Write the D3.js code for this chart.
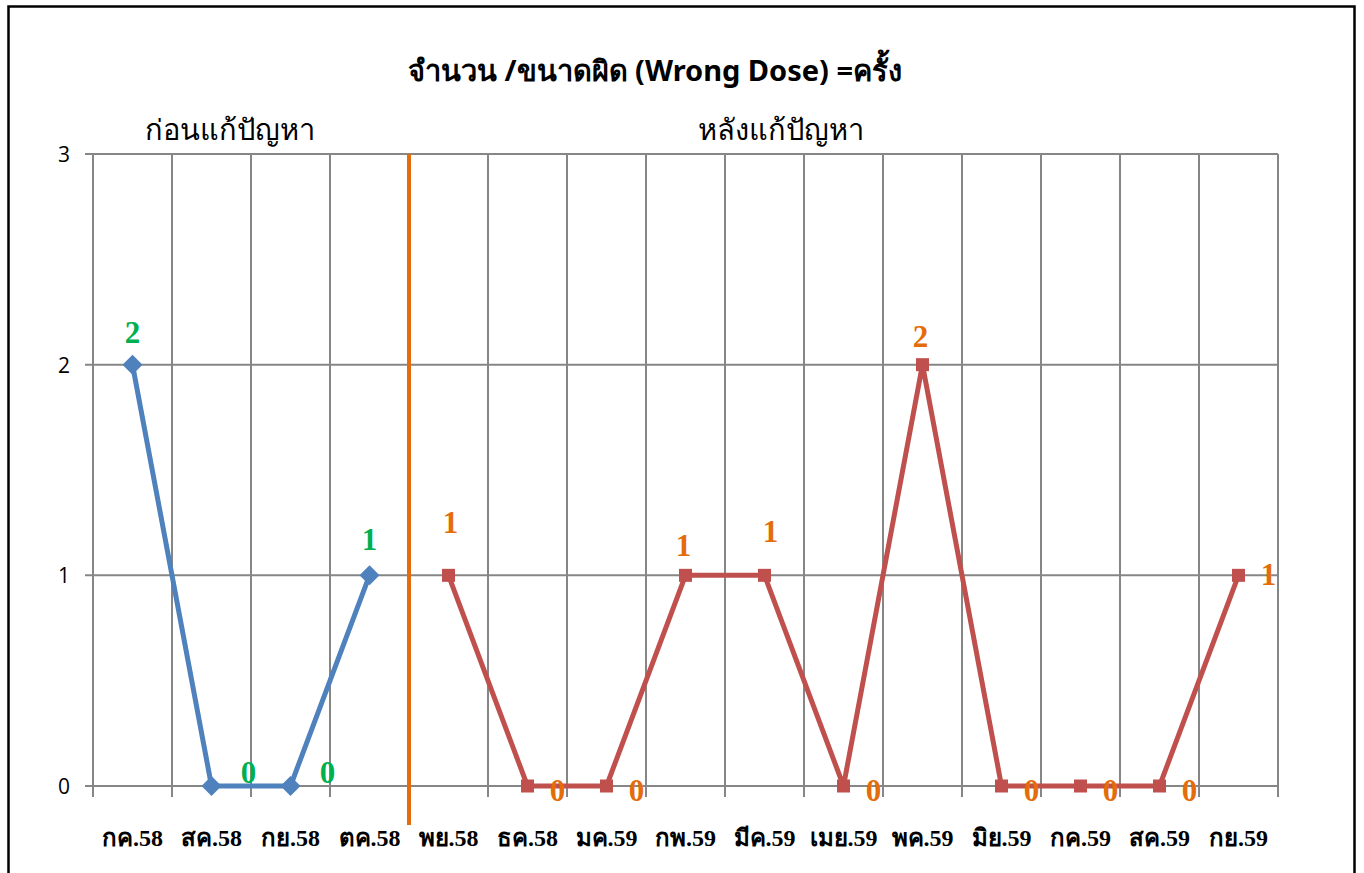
<!DOCTYPE html>
<html><head><meta charset="utf-8">
<script src="https://cdn.jsdelivr.net/npm/d3@7/dist/d3.min.js"></script>
<style>body{margin:0;background:#fff;}svg{display:block;}</style>
</head><body>
<svg id="c" width="1364" height="873"></svg>
<script>
const categories = ["กค.58","สค.58","กย.58","ตค.58","พย.58","ธค.58","มค.59","กพ.59","มีค.59","เมย.59","พค.59","มิย.59","กค.59","สค.59","กย.59"];
const beforeValues = [2,0,0,1];           // ก่อนแก้ปัญหา
const afterValues  = [1,0,0,1,1,0,2,0,0,0,1]; // หลังแก้ปัญหา
const yTicks = [0,1,2,3];
const title = "จำนวน /ขนาดผิด (Wrong Dose) =ครั้ง";
const beforeLabel = "ก่อนแก้ปัญหา";
const afterLabel = "หลังแก้ปัญหา";
// label placement offsets (dx, dy) in px relative to the point
const beforeLabelOffsets = [[0,-22],[37,-3],[37,-3],[0,-25]];
const afterLabelOffsets  = [[2,-42],[30,15],[30,15],[-2,-19],[6,-33],[30,15],[-2,-18],[30,15],[30,15],[30,15],[30,10]];

const svg = d3.select("#c");
const L=93, R=1278, T=154, B=786;
const x = d3.scaleBand().domain(categories).range([L,R]);
const y = d3.scaleLinear().domain([0,3]).range([B,T]);
const grid="#868686";

// frame
svg.append("rect").attr("x",8.5).attr("y",6.5).attr("width",1346).attr("height",880)
  .attr("fill","none").attr("stroke","#000").attr("stroke-width",2.5);

// horizontal gridlines
svg.append("g").selectAll("line").data(yTicks).join("line")
  .attr("x1",L-8).attr("x2",R).attr("y1",d=>y(d)).attr("y2",d=>y(d))
  .attr("stroke",grid).attr("stroke-width",2);
// vertical gridlines
const bounds = categories.map(c=>x(c)).concat([R]);
svg.append("g").selectAll("line").data(bounds).join("line")
  .attr("x1",d=>d).attr("x2",d=>d).attr("y1",T).attr("y2",B+11)
  .attr("stroke",grid).attr("stroke-width",2);

// y tick labels
svg.append("g").selectAll("text").data(yTicks).join("text")
  .attr("x",70).attr("y",d=>y(d)+8).attr("text-anchor","end")
  .attr("font-family","Open Sans, DejaVu Sans, sans-serif").attr("font-size",21).attr("fill","#000")
  .text(d=>d);

// x labels
svg.append("g").selectAll("text").data(categories).join("text")
  .attr("x",d=>x(d)+x.bandwidth()/2).attr("y",846).attr("text-anchor","middle")
  .attr("font-family","Liberation Serif, DejaVu Serif, serif").attr("font-weight","bold").attr("font-size",24).attr("fill","#000")
  .text(d=>d);

// titles
svg.append("text").attr("x",655).attr("y",81).attr("text-anchor","middle")
  .attr("font-family","Noto Sans, DejaVu Sans, sans-serif").attr("font-weight","bold").attr("font-size",29).text(title);
svg.append("text").attr("x",230).attr("y",140).attr("text-anchor","middle")
  .attr("font-family","Noto Sans, DejaVu Sans, sans-serif").attr("font-size",29).text(beforeLabel);
svg.append("text").attr("x",781).attr("y",140).attr("text-anchor","middle")
  .attr("font-family","Noto Sans, DejaVu Sans, sans-serif").attr("font-size",29).text(afterLabel);

// divider
const divX = x(categories[beforeValues.length]);
svg.append("line").attr("x1",divX).attr("x2",divX).attr("y1",T).attr("y2",825)
  .attr("stroke","#E46C0A").attr("stroke-width",4);

const cx = i => x(categories[i])+x.bandwidth()/2;
const beforePts = beforeValues.map((v,i)=>({i,v}));
const afterPts = afterValues.map((v,k)=>({i:k+beforeValues.length,v}));
const line = d3.line().x(d=>cx(d.i)).y(d=>y(d.v));

svg.append("path").datum(beforePts).attr("d",line).attr("fill","none")
  .attr("stroke","#4F81BD").attr("stroke-width",5).attr("stroke-linejoin","round");
svg.append("path").datum(afterPts).attr("d",line).attr("fill","none")
  .attr("stroke","#C0504D").attr("stroke-width",5).attr("stroke-linejoin","round");

svg.append("g").selectAll("path").data(beforePts).join("path")
  .attr("d",d3.symbol(d3.symbolSquare,200))
  .attr("transform",d=>`translate(${cx(d.i)},${y(d.v)}) rotate(45)`)
  .attr("fill","#4F81BD");
svg.append("g").selectAll("rect").data(afterPts).join("rect")
  .attr("x",d=>cx(d.i)-6.5).attr("y",d=>y(d.v)-6.5).attr("width",13).attr("height",13)
  .attr("fill","#C0504D");

// data labels
const lblFont = "Liberation Serif, DejaVu Serif, serif";
svg.append("g").selectAll("text").data(beforePts).join("text")
  .attr("x",(d,k)=>cx(d.i)+beforeLabelOffsets[k][0]).attr("y",(d,k)=>y(d.v)+beforeLabelOffsets[k][1])
  .attr("text-anchor","middle").attr("font-family",lblFont).attr("font-weight","bold").attr("font-size",31)
  .attr("fill","#00B050").text(d=>d.v);
svg.append("g").selectAll("text").data(afterPts).join("text")
  .attr("x",(d,k)=>cx(d.i)+afterLabelOffsets[k][0]).attr("y",(d,k)=>y(d.v)+afterLabelOffsets[k][1])
  .attr("text-anchor","middle").attr("font-family",lblFont).attr("font-weight","bold").attr("font-size",31)
  .attr("fill","#E46C0A").text(d=>d.v);
</script>
</body></html>
